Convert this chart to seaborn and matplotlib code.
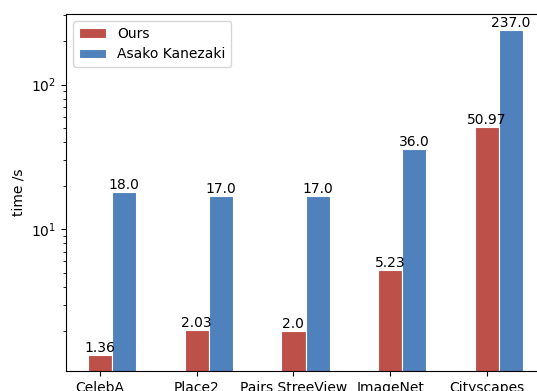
import matplotlib
matplotlib.use("Agg")
import matplotlib.pyplot as plt
import seaborn as sns
import pandas as pd
import numpy as np

categories = ["CelebA", "Place2", "Pairs StreeView", "ImageNet", "Cityscapes"]
ours = [1.36, 2.03, 2.0, 5.23, 50.97]
asako = [18.0, 17.0, 17.0, 36.0, 237.0]
series_names = ["Ours", "Asako Kanezaki"]
colors = ["#bd5049", "#4f81bd"]

df = pd.DataFrame({
    "dataset": categories * 2,
    "time": ours + asako,
    "method": [series_names[0]] * len(categories) + [series_names[1]] * len(categories),
})

plt.rcParams["font.family"] = ["DejaVu Sans"]
fig = plt.figure(figsize=(5.37, 3.91), dpi=100)
ax = fig.add_axes([66 / 537, 20 / 391, 479 / 537, 357 / 391])
ax.set_yscale("log")

sns.barplot(data=df, x="dataset", y="time", hue="method", order=categories,
            hue_order=series_names, palette=colors, saturation=1, width=0.5,
            edgecolor="white", linewidth=0.8, ax=ax, legend=True)

for cont, vals in zip(ax.containers, [ours, asako]):
    ax.bar_label(cont, labels=[str(v) for v in vals], padding=0, fontsize=10)

n = len(categories)
ax.set_xticks(np.arange(n) - 0.125)
ax.set_xticklabels(categories)
ax.set_xlim(-0.475, 4.475 + 0.0)
ax.set_ylim(10 ** 0.0215, 10 ** 2.487)
ax.set_xlabel("")
ax.set_ylabel("time /s")
ax.legend(loc="upper left", fontsize=10)

fig.savefig("out.png", dpi=100)
